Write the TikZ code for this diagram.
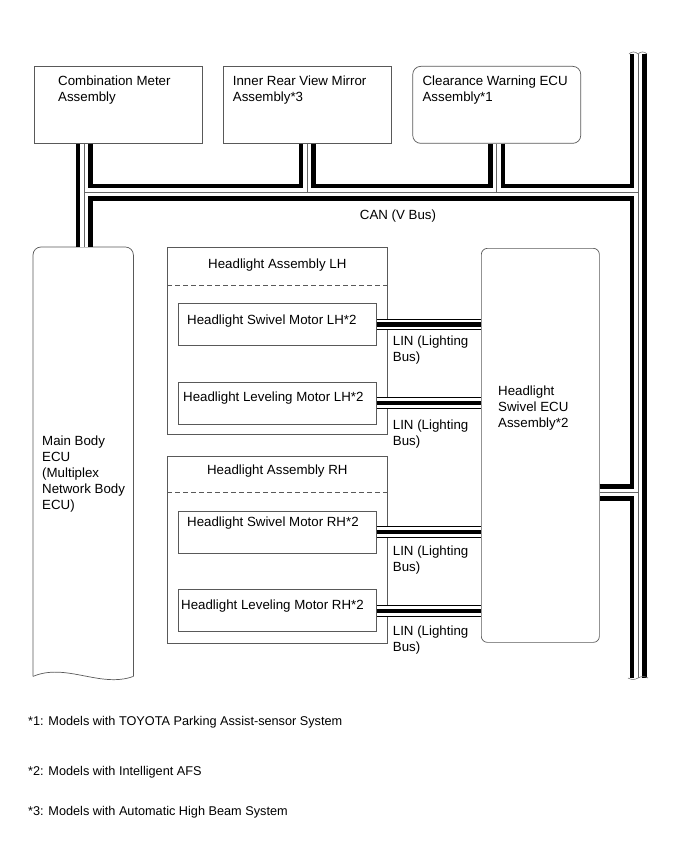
\documentclass[tikz,border=0pt]{standalone}
\usepackage{fontspec}
\setmainfont{Liberation Sans}
\usetikzlibrary{positioning}
\tikzset{
  outline/.style={draw=black!65, line width=0.7pt},
  unit/.style={outline, inner sep=0pt, minimum width=168pt, minimum height=77pt},
  ecu/.style={unit, rounded corners=8pt},
  assy/.style={unit, minimum width=220pt, minimum height=187pt},
  motor/.style={unit, minimum width=198pt, minimum height=42pt},
  txt/.style={font=\fontsize{13.3}{16}\selectfont, align=left, inner sep=0pt},
  note/.style={font=\fontsize{12.7}{15}\selectfont, inner sep=0pt, anchor=base west},
  canouter/.style={line width=17pt, black},
  caninner/.style={line width=7.5pt, white},
  cancore/.style={line width=0.9pt, black!60},
  linouter/.style={line width=11.5pt, black},
  lininner/.style={line width=9.5pt, white},
  lincore/.style={line width=4.3pt, black},
  divider/.style={outline, dash pattern=on 5pt off 3pt},
  brk/.style={draw=black!55, line width=0.6pt}
}
\begin{document}
\begin{tikzpicture}[x=1pt, y=-1pt]
  \useasboundingbox (0,0) rectangle (690,853);
  % units on the CAN bus, top row
  \node[unit, anchor=north west] (meter) at (34,66) {};
  \node[unit, right=20pt of meter] (mirror) {};
  \node[ecu, right=21pt of mirror] (clear) {};
  \node[txt, anchor=north west] (meterT) at ([xshift=24pt,yshift=-9.5pt]meter.north west) {Combination Meter\\Assembly};
  \node[txt, anchor=north west] (mirrorT) at ([xshift=10pt,yshift=-9.5pt]mirror.north west) {Inner Rear View Mirror\\Assembly*3};
  \node[txt, anchor=north west] (clearT) at ([xshift=10pt,yshift=-9.5pt]clear.north west) {Clearance Warning ECU\\Assembly*1};

  % main body ECU (cut off at the bottom)
  \node[minimum width=100pt, minimum height=429pt, inner sep=0pt, anchor=north west] (mbecu) at (33,247) {};
  \draw[outline, rounded corners=8pt] (mbecu.south west) -- (mbecu.north west) -- (mbecu.north east) -- (mbecu.south east);
  \draw[outline] (mbecu.south east) .. controls +(-33,12) and +(33,-14) .. (mbecu.south west);
  \node[txt, anchor=north west] (mbecuT) at ([xshift=9pt,yshift=-188.4pt]mbecu.north west) {Main Body\\ECU\\(Multiplex\\Network Body\\ECU)};

  % headlight assemblies
  \node[assy, anchor=north west] (hlLH) at (167,247) {};
  \node[txt, anchor=base] (hlLHT) at ([yshift=-21pt]hlLH.north) {Headlight Assembly LH};
  \draw[divider] ([yshift=-38pt]hlLH.north west) -- ([yshift=-38pt]hlLH.north east);
  \node[motor, anchor=north west] (swLH) at ([xshift=11pt,yshift=-56pt]hlLH.north west) {};
  \node[txt, anchor=base west] (swLHT) at ([xshift=9pt,yshift=-21pt]swLH.north west) {Headlight Swivel Motor LH*2};
  \node[motor, below=36pt of swLH] (lvLH) {};
  \node[txt, anchor=base west] (lvLHT) at ([xshift=5pt,yshift=-20pt]lvLH.north west) {Headlight Leveling Motor LH*2};

  \node[assy, below=21pt of hlLH] (hlRH) {};
  \node[txt, anchor=base] (hlRHT) at ([yshift=-19pt]hlRH.north) {Headlight Assembly RH};
  \draw[divider] ([yshift=-37pt]hlRH.north west) -- ([yshift=-37pt]hlRH.north east);
  \node[motor, anchor=north west] (swRH) at ([xshift=11pt,yshift=-55pt]hlRH.north west) {};
  \node[txt, anchor=base west] (swRHT) at ([xshift=9pt,yshift=-16pt]swRH.north west) {Headlight Swivel Motor RH*2};
  \node[motor, below=36pt of swRH] (lvRH) {};
  \node[txt, anchor=base west] (lvRHT) at ([xshift=3pt,yshift=-20pt]lvRH.north west) {Headlight Leveling Motor RH*2};

  % swivel ECU
  \node[ecu, minimum width=118pt, minimum height=394pt, rounded corners=6pt, anchor=north west] (hlecu) at (481,248) {};
  \node[txt, anchor=north west] (hlecuT) at ([xshift=17pt,yshift=-138pt]hlecu.north west) {Headlight\\Swivel ECU\\Assembly*2};

  % CAN (V Bus)
  \coordinate (canL) at (84,192);
  \coordinate (canR) at (638,192);
  \coordinate (bustop) at (638,54);
  \coordinate (busbot) at (638,678);
  \foreach \layer in {canouter,caninner,cancore}{
    \draw[\layer] (canL |- meter.south) -- (canL |- mbecu.north);
    \draw[\layer] (canL) -- (canR);
    \draw[\layer] (mirror.south) -- (mirror.south |- canL);
    \draw[\layer] (clear.south) -- (clear.south |- canL);
    \draw[\layer] (bustop) -- (busbot);
    \draw[\layer] ([yshift=-47pt]hlecu.east) -- ([yshift=-47pt]hlecu.east -| bustop);
  }
  \draw[brk] ([xshift=-9pt]bustop) to[bend left=50] (bustop) to[bend left=50] ([xshift=9pt]bustop);
  \draw[brk] ([xshift=-10pt]busbot) to[bend right=30] (busbot) to[bend left=30] ([xshift=10pt]busbot);
  \node[txt, anchor=base] (canT) at (398,219) {CAN (V Bus)};

  % LIN (Lighting Bus)
  \foreach \m in {swLH,lvLH,swRH,lvRH}{
    \foreach \layer in {linouter,lininner,lincore}
      \draw[\layer] (\m.east) -- (\m.east -| hlecu.west);
  }
  \node[txt, anchor=north west] (linA) at ([xshift=16pt,yshift=-11.5pt]swLH.east) {LIN (Lighting\\Bus)};
  \node[txt, anchor=north west] (linB) at ([xshift=16pt,yshift=-16.3pt]lvLH.east) {LIN (Lighting\\Bus)};
  \node[txt, anchor=north west] (linC) at ([xshift=16pt,yshift=-13.3pt]swRH.east) {LIN (Lighting\\Bus)};
  \node[txt, anchor=north west] (linD) at ([xshift=16pt,yshift=-15.3pt]lvRH.east) {LIN (Lighting\\Bus)};

  % footnotes
  \node[note] (n1) at (28,725) {*1: Models with TOYOTA Parking Assist-sensor System};
  \node[note] (n2) at (28,775) {*2: Models with Intelligent AFS};
  \node[note] (n3) at (28,815) {*3: Models with Automatic High Beam System};
\end{tikzpicture}
\end{document}
